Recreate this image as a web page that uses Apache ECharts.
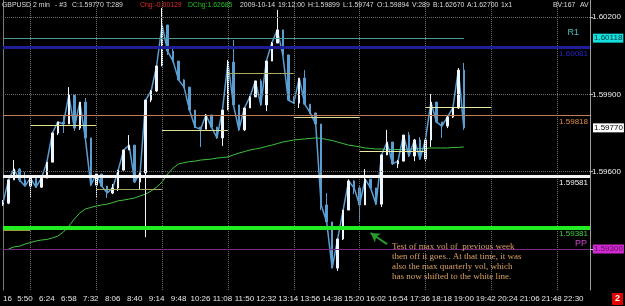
<!DOCTYPE html>
<html>
<head>
<meta charset="utf-8">
<script src="https://cdn.jsdelivr.net/npm/echarts@6/dist/echarts.min.js"></script>
<style>
  html, body { margin: 0; padding: 0; background: #000; }
  #chart { width: 625px; height: 306px; }
</style>
</head>
<body>
<div id="chart"></div>
<script>
// time labels, one every 4 slots (a slot is roughly 4 two-minute bars)
const timeLabels = ['16', '5:50', '6:24', '6:58', '7:32', '8:06', '8:40', '9:14', '9:48', '10:26', '11:08',
  '11:50', '12:32', '13:14', '13:56', '14:38', '15:20', '16:02', '16:54', '17:36', '18:18', '19:00',
  '19:42', '20:24', '21:06', '21:48', '22:30']
const slotsPerLabel = 4
const slotCount = 108
// dotted vertical grid, at these slots
const gridSlots = [5, 17, 29, 41, 53, 65, 77, 89, 101]

// price bars [open, close, low, high]
const bars = [
  [1.59474, 1.59478, 1.59467, 1.59490], [1.59478, 1.59568, 1.59474, 1.59568], [1.59568, 1.59610, 1.59568, 1.59645],
  [1.59610, 1.59568, 1.59560, 1.59614], [1.59568, 1.59544, 1.59544, 1.59599], [1.59544, 1.59575, 1.59502, 1.59587],
  [1.59575, 1.59540, 1.59537, 1.59575], [1.59540, 1.59575, 1.59537, 1.59583], [1.59575, 1.59637, 1.59575, 1.59637],
  [1.59637, 1.59750, 1.59637, 1.59750], [1.59750, 1.59793, 1.59742, 1.59793], [1.59793, 1.59785, 1.59750, 1.59820],
  [1.59785, 1.59897, 1.59785, 1.59928], [1.59897, 1.59769, 1.59758, 1.59897], [1.59769, 1.59870, 1.59762, 1.59870],
  [1.59870, 1.59731, 1.59723, 1.59886], [1.59731, 1.59548, 1.59544, 1.59731], [1.59548, 1.59591, 1.59502, 1.59595],
  [1.59591, 1.59544, 1.59540, 1.59591], [1.59544, 1.59517, 1.59498, 1.59544], [1.59517, 1.59537, 1.59513, 1.59552],
  [1.59537, 1.59606, 1.59525, 1.59606], [1.59606, 1.59684, 1.59606, 1.59684], [1.59684, 1.59703, 1.59684, 1.59742],
  [1.59703, 1.59560, 1.59556, 1.59703], [1.59560, 1.59595, 1.59529, 1.59595], [1.59595, 1.59878, 1.59346, 1.59878],
  [1.59878, 1.59913, 1.59870, 1.59917], [1.59913, 1.60010, 1.59909, 1.60010], [1.60010, 1.60169, 1.60010, 1.60235],
  [1.60169, 1.60068, 1.60053, 1.60169], [1.60068, 1.60029, 1.60025, 1.60080], [1.60029, 1.59956, 1.59952, 1.60029],
  [1.59956, 1.59928, 1.59925, 1.59959], [1.59928, 1.59839, 1.59835, 1.59928], [1.59839, 1.59773, 1.59769, 1.59839],
  [1.59773, 1.59765, 1.59696, 1.59773], [1.59765, 1.59820, 1.59765, 1.59824], [1.59820, 1.59773, 1.59769, 1.59820],
  [1.59773, 1.59731, 1.59727, 1.59773], [1.59731, 1.59839, 1.59700, 1.59839], [1.59839, 1.60025, 1.59839, 1.60033],
  [1.60025, 1.59859, 1.59855, 1.60111], [1.59859, 1.59762, 1.59758, 1.59859], [1.59762, 1.59847, 1.59758, 1.59847],
  [1.59847, 1.59890, 1.59847, 1.59893], [1.59890, 1.59952, 1.59890, 1.59952], [1.59952, 1.59859, 1.59855, 1.59959],
  [1.59859, 1.60029, 1.59835, 1.60029], [1.60029, 1.60099, 1.60029, 1.60103], [1.60099, 1.60150, 1.60099, 1.60227],
  [1.60150, 1.60053, 1.60049, 1.60150], [1.60053, 1.59878, 1.59874, 1.60053], [1.59878, 1.59866, 1.59862, 1.59893],
  [1.59866, 1.59963, 1.59847, 1.59963], [1.59963, 1.59862, 1.59859, 1.59994], [1.59862, 1.59828, 1.59824, 1.59862],
  [1.59828, 1.59785, 1.59785, 1.59828], [1.59785, 1.59471, 1.59451, 1.59785], [1.59471, 1.59405, 1.59401, 1.59517],
  [1.59405, 1.59226, 1.59226, 1.59405], [1.59226, 1.59339, 1.59215, 1.59339], [1.59339, 1.59451, 1.59335, 1.59451],
  [1.59451, 1.59564, 1.59451, 1.59571], [1.59564, 1.59537, 1.59513, 1.59568], [1.59537, 1.59471, 1.59409, 1.59544],
  [1.59471, 1.59571, 1.59471, 1.59610], [1.59571, 1.59537, 1.59533, 1.59571], [1.59537, 1.59474, 1.59471, 1.59537],
  [1.59474, 1.59665, 1.59463, 1.59665], [1.59665, 1.59715, 1.59665, 1.59762], [1.59715, 1.59630, 1.59626, 1.59715],
  [1.59630, 1.59641, 1.59614, 1.59645], [1.59641, 1.59742, 1.59641, 1.59742], [1.59742, 1.59661, 1.59657, 1.59754],
  [1.59661, 1.59723, 1.59641, 1.59727], [1.59723, 1.59649, 1.59645, 1.59734], [1.59649, 1.59723, 1.59641, 1.59731],
  [1.59723, 1.59870, 1.59696, 1.59901], [1.59870, 1.59793, 1.59789, 1.59870], [1.59793, 1.59777, 1.59731, 1.59793],
  [1.59777, 1.59812, 1.59769, 1.59816], [1.59812, 1.59847, 1.59808, 1.59847], [1.59847, 1.59994, 1.59843, 1.60002],
  [1.59994, 1.59770, 1.59762, 1.60022]
]

// green average line
const maValues = [null, 1.59300, 1.59308, 1.59311, 1.59319, 1.59325, 1.59331, 1.59335, 1.59337, 1.59343,
  1.59350, 1.59366, 1.59389, 1.59416, 1.59440, 1.59455, 1.59461, 1.59467, 1.59471, 1.59474,
  1.59480, 1.59487, 1.59490, 1.59494, 1.59498, 1.59506, 1.59513, 1.59525, 1.59540, 1.59560,
  1.59591, 1.59614, 1.59630, 1.59635, 1.59639, 1.59641, 1.59645, 1.59647, 1.59649, 1.59653,
  1.59655, 1.59657, 1.59665, 1.59672, 1.59678, 1.59684, 1.59688, 1.59692, 1.59698, 1.59703,
  1.59709, 1.59715, 1.59719, 1.59723, 1.59725, 1.59727, 1.59729, 1.59731, 1.59729, 1.59725,
  1.59721, 1.59715, 1.59709, 1.59703, 1.59700, 1.59696, 1.59692, 1.59690, 1.59688, 1.59688,
  1.59686, 1.59686, 1.59686, 1.59686, 1.59688, 1.59688, 1.59690, 1.59690, 1.59692, 1.59692,
  1.59692, 1.59692, 1.59694, 1.59694, 1.59696]

const yMin = 1.59141
const yMax = 1.60266
const yTicks = [1.593, 1.596, 1.599, 1.602]
const r1Level = 1.60118
const weekLevel = 1.60081
const orangeLevel = 1.59818
const whiteLevel = 1.59581
const greenLevel = 1.59381
const ppLevel = 1.59300
const lastPrice = 1.59770
// one short level per session column
const sessionLevels = [1.59371, 1.59781, 1.59532, 1.59762, 1.59980, 1.59811, 1.59680, 1.59850]
const sessionStarts = [0, 5, 17, 29, 41, 53, 65, 77]
const sessionEnds = [5, 17, 29, 41, 53, 65, 77, 89]
// arrow of the note: [slot, price] tail and head
const arrowFrom = [69.6, 1.59319]
const arrowTo = [66.5, 1.59362]

const note = 'Test of max vol of  previous week\nthen off it goes.. At that time, it was\nalso the max quarterly vol, which\nhas now shifted to the white line.'

const headerParts = [
  ['GBPUSD', 2, '#dcdcdc'], ['2 min', 33, '#dcdcdc'], ['- #3', 55, '#dcdcdc'], ['C:1.59770', 72, '#dcdcdc'],
  ['T:289', 106, '#dcdcdc'], ['Chg:-0.00129', 140, '#e02828'], ['DChg:1.62685', 188, '#22c022'],
  ['2009-10-14', 240, '#dcdcdc'], ['19:12:00', 278, '#dcdcdc'], ['H:1.59899', 308, '#dcdcdc'],
  ['L:1.59747', 343, '#dcdcdc'], ['O:1.59894', 377, '#dcdcdc'], ['V:289', 412, '#dcdcdc'],
  ['B:1.62670', 433, '#dcdcdc'], ['A:1.62700', 467, '#dcdcdc'], ['1x1', 501, '#dcdcdc'],
  ['BV:167', 553, '#dcdcdc'], ['AV', 580, '#dcdcdc']
]

const sans = '"Liberation Sans", Arial, sans-serif'
const sessionColors = ['#9c9c3c', '#e4e48a', '#a8a868', '#dede90', '#a8a860', '#dcdc90', '#eaeaa0', '#e8e8a0']

const categories = Array.from({ length: slotCount }, (_, i) => String(i))
const lastSlot = slotCount - 1

function hLine (value, lineStyle, label) {
  return [
    { coord: [0, value], lineStyle: lineStyle, label: label },
    { coord: [lastSlot, value] }
  ]
}

function boxLabel (value, bg, fg) {
  return hLine(value, { color: 'rgba(0,0,0,0)', width: 1 }, {
    show: true, position: 'end', distance: 3, formatter: value.toFixed(5),
    backgroundColor: bg, color: fg, fontFamily: sans, fontSize: 8, padding: [1, 1, 0, 1]
  })
}

function levelLine (value, color, width, textColor) {
  return hLine(value, { color: color, width: width, type: 'solid' }, {
    show: true, position: 'insideEndBottom', distance: 2, formatter: value.toFixed(5),
    color: textColor, fontFamily: sans, fontSize: 8
  })
}

const levelMarks = []
yTicks.forEach(v => levelMarks.push(hLine(v, { color: '#6e6e6e', width: 1, type: 'dotted' }, { show: false })))
gridSlots.forEach(s => levelMarks.push([
  { coord: [s, yMin], lineStyle: { color: '#6e6e6e', width: 1, type: 'dotted' }, label: { show: false } },
  { coord: [s, yMax] }
]))
sessionLevels.forEach((v, i) => levelMarks.push([
  { coord: [sessionStarts[i], v], lineStyle: { color: sessionColors[i], width: 1, type: 'solid' }, label: { show: false } },
  { coord: [sessionEnds[i], v] }
]))
levelMarks.push([
  { coord: [0, r1Level], lineStyle: { color: '#4e9898', width: 1, type: 'solid' }, label: { show: false } },
  { coord: [bars.length - 1, r1Level] }
])
levelMarks.push(hLine(r1Level, { color: 'rgba(0,0,0,0)', width: 1 }, {
  show: true, position: 'insideEndTop', formatter: 'R1', color: '#4cc0c0', fontFamily: sans, fontSize: 9, padding: [0, 10, 0, 0], distance: 1
}))
levelMarks.push(levelLine(weekLevel, '#1e1e96', 3, '#2626c8'))
levelMarks.push(levelLine(orangeLevel, '#c27c58', 1, '#e08a40'))
levelMarks.push(levelLine(whiteLevel, '#f4f4f4', 3, '#f4f4f4'))
levelMarks.push(levelLine(greenLevel, '#22ec22', 4, '#3cd23c'))
levelMarks.push(hLine(ppLevel, { color: '#7a2a82', width: 1, type: 'solid' }, {
  show: true, position: 'insideEndTop', formatter: 'PP', color: '#d040d0', fontFamily: sans, fontSize: 9, padding: [0, 2, 0, 0], distance: 1
}))
levelMarks.push(boxLabel(r1Level, '#14e0e0', '#003838'))
levelMarks.push(boxLabel(lastPrice, '#ffffff', '#000000'))
levelMarks.push(boxLabel(ppLevel, '#d22ad2', '#5a105a'))
levelMarks.push([
  { coord: arrowFrom, symbol: 'none', lineStyle: { color: '#2a9a2a', width: 2, type: 'solid' }, label: { show: false } },
  { coord: arrowTo, symbol: 'arrow', symbolSize: [8, 9] }
])

const chart = echarts.init(document.getElementById('chart'))
chart.setOption({
  backgroundColor: '#000000',
  animation: false,
  grid: { left: 1, right: 35, top: 0, bottom: 16 },
  xAxis: {
    type: 'category',
    data: categories,
    boundaryGap: false,
    axisLine: { show: false },
    axisTick: { show: false },
    axisLabel: {
      color: '#e6e6e6', fontFamily: sans, fontSize: 8, margin: 5,
      alignMinLabel: 'left',
      interval: (i) => i % slotsPerLabel === 0 && i / slotsPerLabel < timeLabels.length,
      formatter: (v, i) => timeLabels[i / slotsPerLabel] || ''
    },
    splitLine: { show: false }
  },
  yAxis: [{
    type: 'value',
    position: 'right',
    min: yMin,
    max: yMax,
    axisLine: { show: true, lineStyle: { color: '#9c9c9c' } },
    axisTick: { show: true, customValues: yTicks, length: 3, lineStyle: { color: '#bbbbbb' } },
    axisLabel: {
      customValues: yTicks, color: '#f0f0f0', fontFamily: sans, fontSize: 8, margin: 2,
      formatter: (v) => v.toFixed(5)
    },
    splitLine: { show: false }
  }, {
    type: 'value',
    position: 'left',
    min: yMin,
    max: yMax,
    axisLine: { show: true, lineStyle: { color: '#7a7a7a' } },
    axisTick: { show: false },
    axisLabel: { show: false },
    splitLine: { show: false }
  }],
  series: [{
    name: 'levels',
    type: 'line',
    data: [],
    z: 1,
    silent: true,
    markLine: { silent: true, symbol: 'none', animation: false, data: levelMarks }
  }, {
    name: 'average',
    type: 'line',
    data: maValues,
    z: 2,
    symbol: 'none',
    lineStyle: { color: '#3cc43c', width: 1 }
  }, {
    name: 'closes',
    type: 'line',
    data: bars.map(b => b[1]),
    z: 3,
    symbol: 'none',
    lineStyle: { color: '#5b9fd2', width: 1.5 }
  }, {
    name: 'GBPUSD',
    type: 'candlestick',
    data: bars,
    z: 4,
    barWidth: 2,
    itemStyle: {
      color: '#eef6ff', color0: '#5a9dd0',
      borderColor: '#eef6ff', borderColor0: '#5a9dd0', borderWidth: 1
    }
  }],
  graphic: headerParts.map(p => ({
    type: 'text', left: p[1], top: 1, z: 10, scaleX: 0.86,
    style: { text: p[0], fill: p[2], font: '8px ' + sans }
  })).concat([{
    type: 'text', left: 392, top: 242, z: 10,
    style: { text: note, fill: '#d8a060', font: '9px "Liberation Serif", "Times New Roman", serif', lineHeight: 9.8 }
  }, {
    type: 'rect', left: 612, top: 293, z: 10, shape: { width: 11, height: 12 }, style: { fill: '#e00000' }
  }, {
    type: 'text', left: 615, top: 294, z: 11, style: { text: '2', fill: '#ffffff', font: 'bold 9px ' + sans }
  }])
})
</script>
</body>
</html>
